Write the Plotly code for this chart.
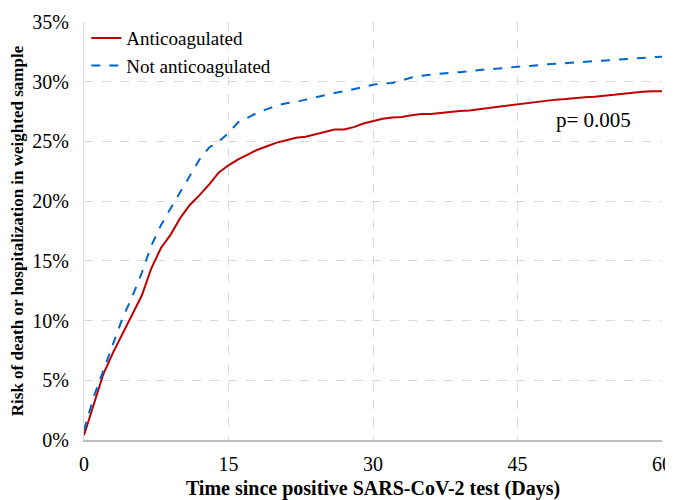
import plotly.graph_objects as go

days = list(range(61))
anticoagulated = [0.4, 3.0, 5.5, 7.3, 8.9, 10.6, 12.1, 14.4, 16.1, 17.2,
                  18.6, 19.7, 20.5, 21.4, 22.4, 23.0, 23.5, 23.9, 24.3, 24.6,
                  24.9, 25.1, 25.3, 25.4, 25.6, 25.8, 26.0, 26.0, 26.2, 26.5,
                  26.7, 26.9, 27.0, 27.05, 27.2, 27.3, 27.3, 27.4, 27.5, 27.55,
                  27.6, 27.7, 27.8, 27.9, 28.0, 28.1, 28.25, 28.35, 28.4, 28.5,
                  28.55, 28.65, 28.7, 28.75, 28.8, 28.9, 29.0, 29.1, 29.15, 29.2,
                  29.2]
not_anticoagulated = [0.8, 3.6, 5.8, 8.0, 10.2, 12.0, 14.0, 16.3, 18.0, 19.4,
                      20.8, 22.2, 23.5, 24.5, 25.0, 25.7, 26.6, 27.0, 27.4, 27.7,
                      28.0, 28.2, 28.3, 28.5, 28.7, 28.9, 29.05, 29.2, 29.4, 29.6,
                      29.75, 29.85, 29.9, 30.1, 30.35, 30.5, 30.6, 30.65, 30.75, 30.8,
                      30.9, 31.0, 31.05, 31.1, 31.2, 31.25, 31.3, 31.4, 31.45, 31.5,
                      31.55, 31.65, 31.7, 31.75, 31.8, 31.85, 31.9, 31.95, 32.0, 32.05,
                      32.1]
x_ticks = [0, 15, 30, 45, 60]
y_ticks = [0, 5, 10, 15, 20, 25, 30, 35]
y_tick_labels = ["0%", "5%", "10%", "15%", "20%", "25%", "30%", "35%"]
p_text = "p= 0.005"

FONT = "'Liberation Serif', 'Times New Roman', serif"

fig = go.Figure()
fig.add_trace(go.Scatter(x=days, y=anticoagulated, mode="lines", name="Anticoagulated",
                         line=dict(color="#c00000", width=2)))
fig.add_trace(go.Scatter(x=days, y=not_anticoagulated, mode="lines", name="Not anticoagulated",
                         line=dict(color="#0066cc", width=2, dash="dash")))

fig.add_annotation(x=52.9, y=26.8, text=p_text, showarrow=False,
                   font=dict(family=FONT, size=21, color="black"))

# page body has an 8px margin, so the figure is sized/offset to compensate
fig.update_layout(
    width=665, height=492,
    margin=dict(l=76, r=11, t=12, b=60),
    paper_bgcolor="white", plot_bgcolor="white",
    font=dict(family=FONT, color="black"),
    showlegend=True,
    legend=dict(x=0.004, y=1.007, xanchor="left", yanchor="top",
                bgcolor="rgba(0,0,0,0)", font=dict(family=FONT, size=19, color="black"),
                tracegroupgap=0, itemwidth=30),
)
fig.update_xaxes(range=[0, 60], tickvals=x_ticks, showgrid=True,
                 gridcolor="#d9d9d9", griddash="dash", gridwidth=1,
                 showline=True, linecolor="#bfbfbf", linewidth=1.5,
                 zeroline=False, ticks="", ticklabelstandoff=5, automargin=False,
                 ticklabeloverflow="allow",
                 tickfont=dict(family=FONT, size=20, color="black"),
                 title=dict(text="<b>Time since positive SARS-CoV-2 test (Days)</b>",
                            font=dict(family=FONT, size=20, color="black"), standoff=10))
fig.update_yaxes(range=[0, 35], tickvals=y_ticks, ticktext=y_tick_labels, showgrid=True,
                 gridcolor="#d9d9d9", griddash="dash", gridwidth=1,
                 showline=True, linecolor="#d9d9d9", linewidth=1,
                 zeroline=False, ticks="", ticklabelstandoff=10, automargin=False,
                 tickfont=dict(family=FONT, size=20, color="black"),
                 title=dict(text="<b>Risk of death or hospitalization in weighted sample</b>",
                            font=dict(family=FONT, size=17, color="black"), standoff=4))

fig.write_html("out.html")
